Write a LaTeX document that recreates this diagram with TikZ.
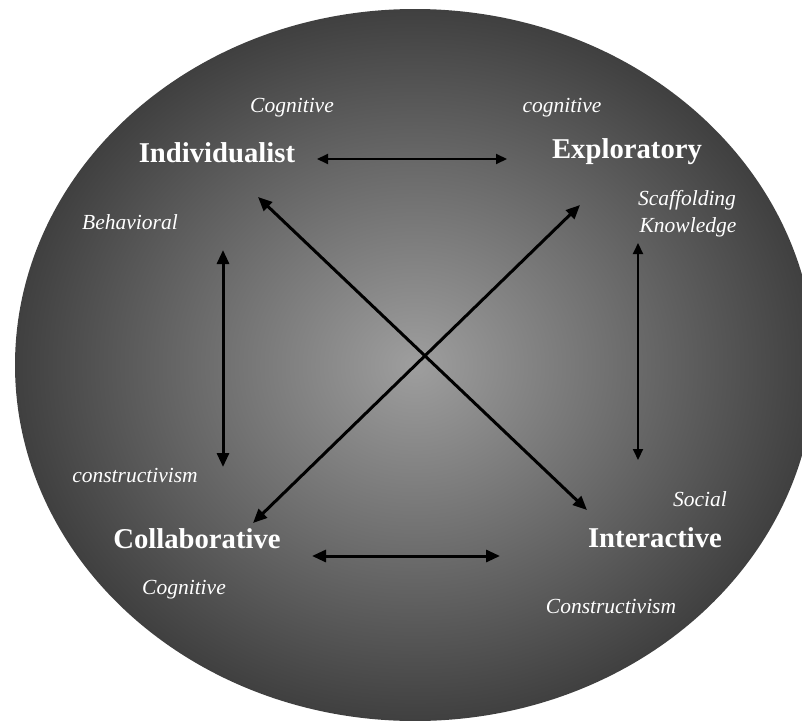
\documentclass[tikz,border=0pt]{standalone}
\usepackage{fontspec}
\setmainfont{Liberation Serif}
\usetikzlibrary{arrows.meta}
\definecolor{discmid}{gray}{0.62}
\definecolor{discrim}{gray}{0.25}
\pgfdeclareradialshading{discglow}{\pgfpoint{0bp}{0bp}}{color(0bp)=(discmid); color(25bp)=(discrim); color(50bp)=(discrim)}

\begin{document}
\begin{tikzpicture}[x=1pt, y=-1pt,
    mode/.style={text=white, inner sep=0pt, anchor=base, font=\fontsize{28.7}{30}\selectfont\bfseries},
    theory/.style={text=white, inner sep=0pt, anchor=base, font=\fontsize{21.5}{23}\selectfont\itshape},
    link/.style={{Triangle[length=11pt,width=10pt]}-{Triangle[length=11pt,width=10pt]}, line width=2pt, black},
    heavy/.style={{Triangle[length=14pt,width=12pt]}-{Triangle[length=14pt,width=12pt]}, line width=3pt, black}]
    \useasboundingbox (0,0) rectangle (802,720);
    \clip (0,0) rectangle (802,720);
    \shade[shading=discglow] (415,365) ellipse [x radius=400pt, y radius=356pt];

    \node[mode] (indiv) at (217,162) {Individualist};
    \node[mode] (explor) at (627,158) {Exploratory};
    \node[mode] (collab) at (197,548) {Collaborative};
    \node[mode] (interact) at (655,547) {Interactive};

    \node[theory] (cogA) at (292,112) {Cognitive};
    \node[theory] (cogB) at (562,112) {cognitive};
    \node[theory] (scaff) at (687,205) {Scaffolding};
    \node[theory] (know) at (688,232) {Knowledge};
    \node[theory] (behav) at (130,229) {Behavioral};
    \node[theory] (constrA) at (135,482) {constructivism};
    \node[theory] (cogC) at (184,594) {Cognitive};
    \node[theory] (social) at (700,506) {Social};
    \node[theory] (constrB) at (611,613) {Constructivism};

    \draw[link] ([shift={(100,-3)}]indiv.base) -- ([shift={(-120,1)}]explor.base);
    \draw[heavy] ([shift={(115,8)}]collab.base) -- ([shift={(-155,9)}]interact.base);
    \draw[heavy] ([shift={(6,88)}]indiv.base) -- ([shift={(26,-81)}]collab.base);
    \draw[link] ([shift={(11,85)}]explor.base) -- ([shift={(-17,-87)}]interact.base);
    \draw[heavy] ([shift={(41,35)}]indiv.base) -- ([shift={(-68,-37)}]interact.base);
    \draw[heavy] ([shift={(56,-25)}]collab.base) -- ([shift={(-47,47)}]explor.base);
\end{tikzpicture}
\end{document}
